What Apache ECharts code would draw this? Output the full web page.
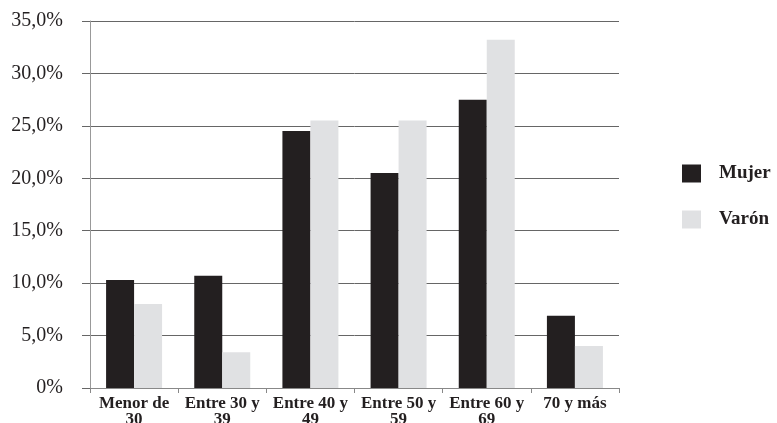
<!DOCTYPE html>
<html><head><meta charset="utf-8">
<script src="https://cdn.jsdelivr.net/npm/echarts@6/dist/echarts.min.js"></script>
<style>html,body{margin:0;padding:0;background:#fff}#c{width:777px;height:423px}</style>
</head><body><div id="c"></div>
<script>
const categories = ['Menor de\n30', 'Entre 30 y\n39', 'Entre 40 y\n49', 'Entre 50 y\n59', 'Entre 60 y\n69', '70 y más'];
const mujer = [10.3, 10.7, 24.5, 20.5, 27.5, 6.9];
const varon = [8.0, 3.4, 25.5, 25.5, 33.2, 4.0];
const yTicks = [0, 5, 10, 15, 20, 25, 30, 35];

const chart = echarts.init(document.getElementById('c'), null, {renderer: 'canvas'});
chart.setOption({
  animation: false,
  backgroundColor: '#fff',
  grid: {left: 90, right: 158, top: 21, bottom: 35, containLabel: false, outerBoundsMode: 'none'},
  legend: {
    orient: 'vertical', left: 677, top: 159,
    itemWidth: 19, itemHeight: 18, itemGap: 27,
    icon: 'rect',
    textStyle: {fontFamily: 'Liberation Serif', fontWeight: 'bold', fontSize: 19, color: '#231f20', padding: [0, 0, 0, 13]},
    data: ['Mujer', 'Varón']
  },
  xAxis: {
    type: 'category', data: categories,
    axisLine: {lineStyle: {color: '#888', width: 1}},
    axisTick: {show: true, length: 5, lineStyle: {color: '#888'}},
    axisLabel: {fontFamily: 'Liberation Serif', fontWeight: 'bold', fontSize: 17, color: '#231f20', margin: 8, lineHeight: 16, interval: 0}
  },
  yAxis: {
    type: 'value', min: 0, max: 35, interval: 5,
    axisLine: {show: true, lineStyle: {color: '#999', width: 1}},
    axisTick: {show: true, length: 8, lineStyle: {color: '#666'}},
    splitLine: {lineStyle: {color: '#666', width: 1}},
    axisLabel: {
      fontFamily: 'Liberation Serif', fontSize: 20, color: '#231f20', margin: 27,
      formatter: v => yTicks.includes(v) ? (v === 0 ? '0%' : v.toFixed(1).replace('.', ',') + '%') : ''
    }
  },
  series: [
    {name: 'Mujer', type: 'bar', data: mujer, barWidth: 28, barGap: '0%', itemStyle: {color: '#231f20'}},
    {name: 'Varón', type: 'bar', data: varon, barWidth: 28, barGap: '0%', itemStyle: {color: '#e0e1e3'}}
  ]
});
</script></body></html>
